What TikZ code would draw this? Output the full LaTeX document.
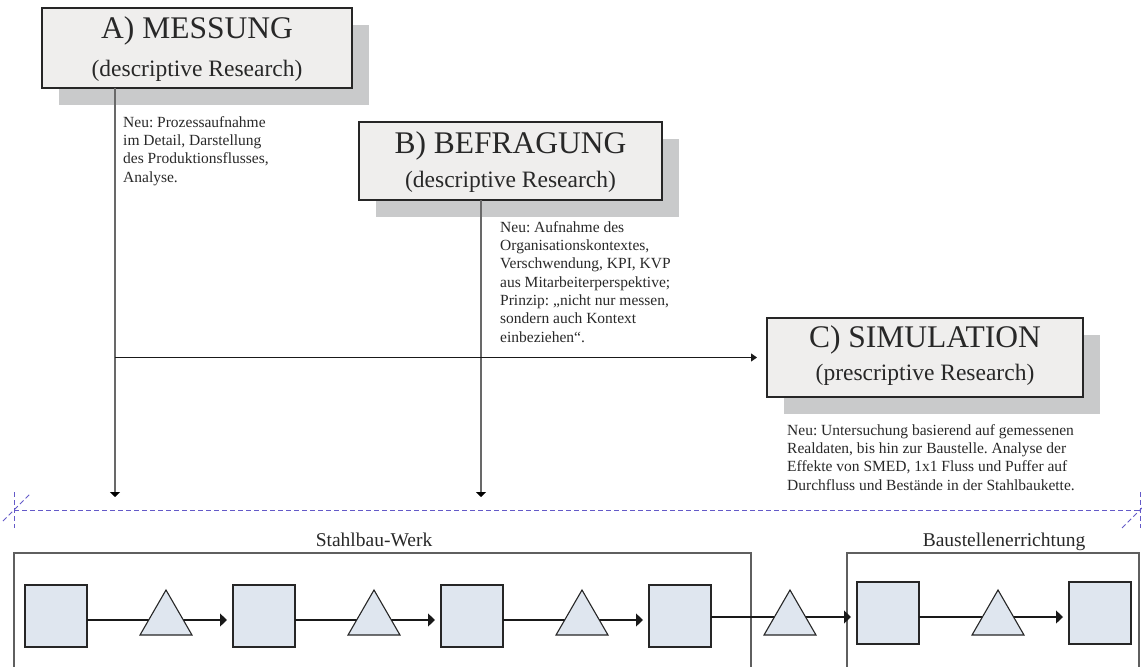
\documentclass[tikz,border=0pt]{standalone}
\usepackage{fontspec}
\setmainfont{Liberation Serif}
\usetikzlibrary{arrows.meta,shapes.geometric,calc}
\frenchspacing

\definecolor{boxfill}{RGB}{239,238,237}
\definecolor{shadowgray}{RGB}{201,202,203}
\definecolor{stepfill}{RGB}{223,230,239}
\definecolor{inkgray}{RGB}{40,40,40}
\definecolor{leadgray}{RGB}{105,105,105}
\definecolor{cutblue}{RGB}{100,90,200}
\definecolor{framegray}{RGB}{95,95,95}

\begin{document}
\begin{tikzpicture}[x=1pt,y=-1pt,
  phase/.style={draw=black!85, line width=1.2pt, fill=boxfill, inner sep=0pt, outer sep=0pt},
  shade/.style={fill=shadowgray, inner sep=0pt, outer sep=0pt},
  title/.style={font=\fontsize{31.5}{36}\selectfont, text=inkgray, inner sep=0pt, anchor=base},
  subtitle/.style={font=\fontsize{23.5}{28}\selectfont, text=inkgray, inner sep=0pt, anchor=base},
  note/.style={font=\fontsize{15.5}{18.3}\selectfont, text=inkgray, inner sep=0pt, anchor=north west, align=left},
  stepbox/.style={draw=black!85, line width=1.1pt, fill=stepfill, minimum width=62pt, minimum height=62pt, inner sep=0pt, outer sep=0pt},
  buffer/.style={regular polygon, regular polygon sides=3, draw=black!85, line width=1.1pt, fill=stepfill, minimum size=60pt, inner sep=0pt, outer sep=0pt},
  flow/.style={line width=1.1pt, draw=black!90, -{Triangle[length=7pt,width=13pt]}, shorten >=6pt},
  lead/.style={line width=1.5pt, draw=leadgray, -{Triangle[length=5pt,width=10pt,color=black]}},
  area/.style={font=\fontsize{19.5}{23}\selectfont, text=inkgray, anchor=base, inner sep=0pt},
  cut/.style={cutblue, line width=1pt, dash pattern=on 5pt off 3pt},
  frame/.style={framegray, line width=1.3pt}
]
\useasboundingbox (0,0) rectangle (1142,666);

% drop shadows behind the three phase boxes
\node[shade, minimum width=310pt, minimum height=80pt] (Ash) at (214,65) {};
\node[shade, minimum width=303pt, minimum height=78pt] (Bsh) at (527.5,178) {};
\node[shade, minimum width=316pt, minimum height=79pt] (Csh) at (942,374.5) {};

% phase boxes
\node[phase, minimum width=310pt, minimum height=80pt] (A) at (197,48) {};
\node[phase, minimum width=303pt, minimum height=78pt] (B) at (510.5,161) {};
\node[phase, minimum width=316pt, minimum height=79pt] (C) at (925,357.5) {};

\node[title] (Atitle) at (197,39) {A) MESSUNG};
\node[subtitle] (Asub) at (197,77) {(descriptive Research)};
\node[title] (Btitle) at (510.5,153) {B) BEFRAGUNG};
\node[subtitle] (Bsub) at (510.5,187) {(descriptive Research)};
\node[title] (Ctitle) at (925,347) {C) SIMULATION};
\node[subtitle] (Csub) at (925,380) {(prescriptive Research)};

% explanatory notes
\node[note] (Anote) at (123,115) {\rule{0pt}{12pt}Neu: Prozessaufnahme\\im Detail, Darstellung\\des Produktionsflusses,\\Analyse.};
\node[note] (Bnote) at (500,220) {\rule{0pt}{12pt}Neu: Aufnahme des\\Organisationskontextes,\\Verschwendung, KPI, KVP\\aus Mitarbeiterperspektive;\\Prinzip: „nicht nur messen,\\sondern auch Kontext\\einbeziehen“.};
\node[note] (Cnote) at (787,423) {\rule{0pt}{12pt}Neu: Untersuchung basierend auf gemessenen\\Realdaten, bis hin zur Baustelle. Analyse der\\Effekte von SMED, 1x1 Fluss und Puffer auf\\Durchfluss und Bestände in der Stahlbaukette.};

% leads from the phases down to the process chain
\coordinate (Atop) at ($(A.south west)+(73,0)$);
\coordinate (Aend) at (115,497);
\coordinate (Ajoin) at (115,357.5);
\coordinate (Btop) at ($(B.south west)+(122,0)$);
\coordinate (Bend) at (481,497);
\draw[lead] (Atop) -- (Aend);
\draw[lead] (Btop) -- (Bend);
\draw[line width=1pt, draw=black!90, -{Triangle[length=6pt,width=8pt]}, shorten >=10pt] (Ajoin) -- (C.west);

% section cut line
\coordinate (cutL) at (14,510);
\coordinate (cutR) at (1140,510);
\draw[cut] (cutL) -- (cutR);
\draw[cut] (14,492) -- (14,528);
\draw[cut] (3,521) -- (30,494);
\draw[cut] (1140,492) -- (1140,528);
\draw[cut] (1122,528) -- (1148,502);

% plant and site frames
\draw[frame] (14,672) -- (14,553) -- (751,553) -- (751,672);
\draw[frame] (847,672) -- (847,553) -- (1139,553) -- (1139,672);
\node[area] (werk) at (374,546) {Stahlbau-Werk};
\node[area] (site) at (1004,546) {Baustellenerrichtung};

% process steps
\node[stepbox] (S1) at (56,616) {};
\node[stepbox] (S2) at (264,616) {};
\node[stepbox] (S3) at (472,616) {};
\node[stepbox] (S4) at (680,616) {};
\node[stepbox] (S5) at (888,613) {};
\node[stepbox] (S6) at (1100,613) {};

% material flow
\draw[flow] ([yshift=-4pt]S1.east) -- ([yshift=-4pt]S2.west);
\draw[flow] ([yshift=-4pt]S2.east) -- ([yshift=-4pt]S3.west);
\draw[flow] ([yshift=-4pt]S3.east) -- ([yshift=-4pt]S4.west);
\draw[flow] ([yshift=-1pt]S4.east) -- ([yshift=-4pt]S5.west);
\draw[flow] ([yshift=-4pt]S5.east) -- ([yshift=-4pt]S6.west);

% buffers
\node[buffer] (T1) at (166,620) {};
\node[buffer] (T2) at (374,620) {};
\node[buffer] (T3) at (582,620) {};
\node[buffer] (T4) at (790,620) {};
\node[buffer] (T5) at (998,620) {};
\end{tikzpicture}
\end{document}
